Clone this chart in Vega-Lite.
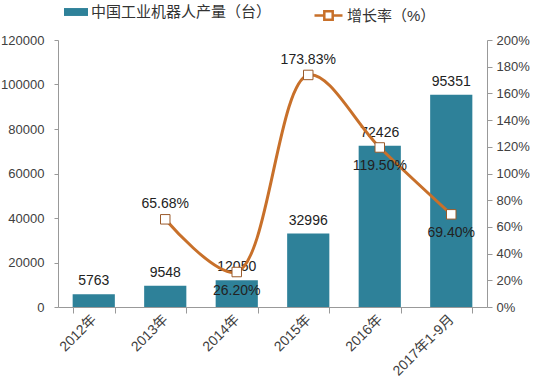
{
  "$schema": "https://vega.github.io/schema/vega-lite/v6.json",
  "width": 429,
  "height": 267,
  "autosize": {"type": "none"},
  "padding": {"left": 58, "top": 40, "right": 52, "bottom": 82},
  "background": "white",
  "config": {
    "font": "Liberation Sans, Noto Sans CJK SC",
    "view": {"stroke": null},
    "axis": {"grid": false, "domainColor": "#999999", "tickColor": "#999999", "labelColor": "#404040", "labelFontSize": 13, "titleFontSize": 0, "labelOverlap": false}
  },
  "data": {
    "values": [
      {"year": "2012年", "output": 5763, "rate": null},
      {"year": "2013年", "output": 9548, "rate": 0.6568},
      {"year": "2014年", "output": 12050, "rate": 0.2620},
      {"year": "2015年", "output": 32996, "rate": 1.7383},
      {"year": "2016年", "output": 72426, "rate": 1.1950},
      {"year": "2017年1-9月", "output": 95351, "rate": 0.6940}
    ]
  },
  "encoding": {
    "x": {
      "field": "year", "type": "nominal", "sort": null, "title": null,
      "scale": {"paddingInner": 0.41, "paddingOuter": 0.205},
      "axis": {"labelAngle": -45, "labelAlign": "right", "labelBaseline": "middle", "tickBand": "extent", "tickSize": 6, "labelPadding": 4, "labelFontSize": 14}
    }
  },
  "layer": [
    {
      "layer": [
        {
          "mark": {"type": "bar", "color": "#2e8199"},
          "encoding": {
            "y": {"field": "output", "type": "quantitative", "title": null,
              "scale": {"domain": [0, 120000]},
              "axis": {"values": [0, 20000, 40000, 60000, 80000, 100000, 120000], "format": "d", "tickSize": 4, "labelPadding": 10}},
            "fill": {"datum": "中国工业机器人产量（台）", "scale": {"range": ["#2e8199"]},
              "legend": {"title": null, "orient": "none", "legendX": 6, "legendY": -40, "symbolType": "M-1,-0.33H1V0.33H-1Z", "symbolSize": 576, "symbolStrokeWidth": 0, "labelFontSize": 15, "labelColor": "#333333", "labelOffset": 3, "labelLimit": 400}}
          }
        },
        {
          "mark": {"type": "text", "baseline": "bottom", "dy": -6, "fontSize": 14, "color": "#222222"},
          "encoding": {
            "y": {"field": "output", "type": "quantitative"},
            "text": {"field": "output", "type": "quantitative", "format": "d"}
          }
        }
      ]
    },
    {
      "transform": [{"filter": "datum.rate != null"}],
      "layer": [
        {
          "mark": {"type": "line", "interpolate": "catmull-rom", "strokeWidth": 3, "color": "#c8702a"},
          "encoding": {
            "y": {"field": "rate", "type": "quantitative", "title": null,
              "scale": {"domain": [0, 2], "nice": false},
              "axis": {"orient": "right", "values": [0, 0.2, 0.4, 0.6, 0.8, 1, 1.2, 1.4, 1.6, 1.8, 2], "tickCount": 11, "labelOverlap": false, "format": ".0%", "tickSize": 5, "labelPadding": 4}},
            "stroke": {"datum": "增长率（%）", "scale": {"range": ["#c8702a"]},
              "legend": {"title": null, "orient": "none", "legendX": 255, "legendY": -40, "symbolType": "M-1,0H-0.3M0.3,0H1M-0.3,-0.3H0.3V0.3H-0.3Z", "symbolSize": 784, "symbolFillColor": "white", "symbolStrokeWidth": 2.5, "labelFontSize": 15, "labelColor": "#333333", "labelOffset": 3, "labelLimit": 300}}
          }
        },
        {
          "mark": {"type": "point", "shape": "square", "size": 90, "filled": true, "fill": "white", "stroke": "#9a5a2a", "strokeWidth": 1, "opacity": 1},
          "encoding": {"y": {"field": "rate", "type": "quantitative"}}
        },
        {
          "transform": [{"filter": {"field": "year", "oneOf": ["2013年", "2015年"]}}],
          "mark": {"type": "text", "baseline": "middle", "dy": -15, "fontSize": 14, "color": "#222222"},
          "encoding": {
            "y": {"field": "rate", "type": "quantitative"},
            "text": {"field": "rate", "type": "quantitative", "format": ".2%"}
          }
        },
        {
          "transform": [{"filter": {"field": "year", "oneOf": ["2014年", "2016年", "2017年1-9月"]}}],
          "mark": {"type": "text", "baseline": "middle", "dy": 19, "fontSize": 14, "color": "#222222"},
          "encoding": {
            "y": {"field": "rate", "type": "quantitative"},
            "text": {"field": "rate", "type": "quantitative", "format": ".2%"}
          }
        }
      ]
    }
  ],
  "resolve": {"scale": {"y": "independent"}}
}
